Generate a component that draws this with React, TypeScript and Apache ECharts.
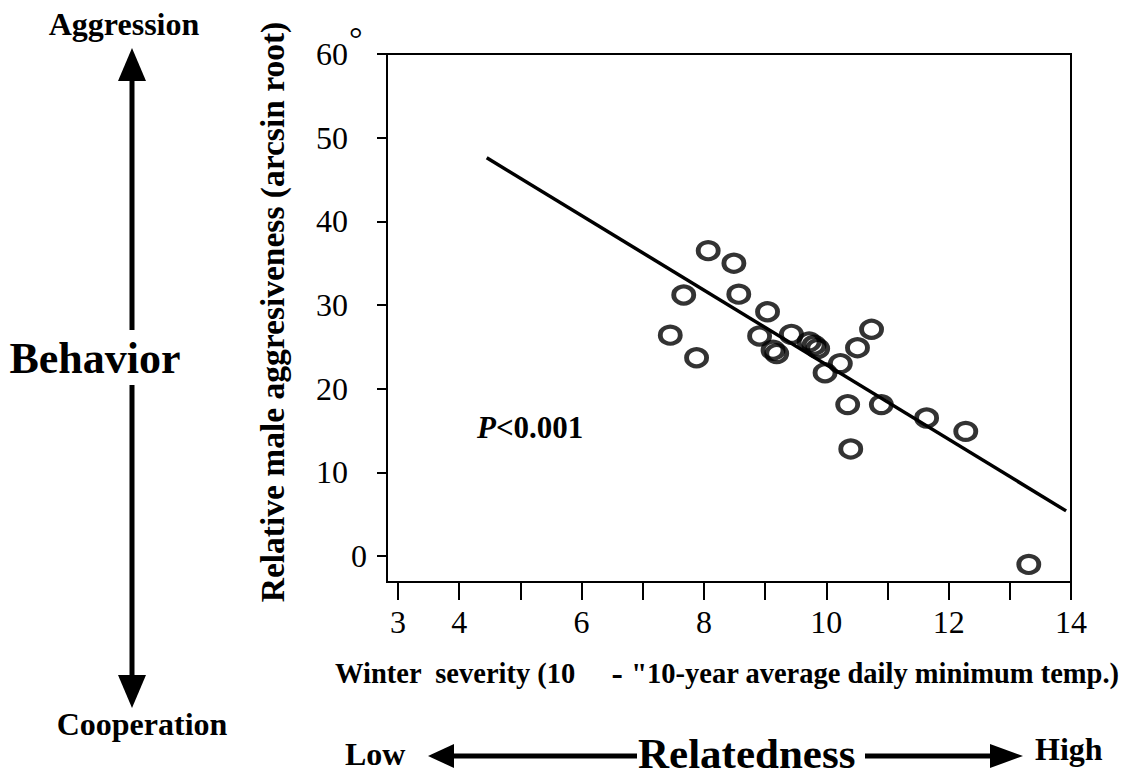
import React, { useEffect, useRef } from "react";
import * as echarts from "echarts";

// Winter severity (x) and relative male aggressiveness (y) per population
const winterSeverity = [8.07, 8.49, 7.67, 8.57, 9.04, 7.45, 8.91, 9.43, 9.13, 9.19, 9.72, 9.8, 9.86, 9.98, 10.23, 10.51, 10.74, 10.35, 10.9, 11.64, 12.28, 10.4, 7.88, 13.31];
const maleAggressiveness = [36.5, 35.0, 31.2, 31.3, 29.2, 26.4, 26.3, 26.5, 24.6, 24.2, 25.6, 25.2, 24.8, 21.9, 23.0, 24.9, 27.1, 18.1, 18.1, 16.5, 14.9, 12.8, 23.7, -1.0];

// Regression line end points
const fitX = [4.45, 13.92];
const fitY = [47.6, 5.4];

// Axis ticks and labels
const xTickValues = [3, 4, 5, 6, 7, 8, 9, 10, 11, 12, 13, 14];
const xLabelValues = [3, 4, 6, 8, 10, 12, 14];
const yTickValues = [0, 10, 20, 30, 40, 50, 60];

const xTitleA = "Winter  severity (10";
const xTitleB = '"10-year average daily minimum temp.)';
const yTitle = "Relative male aggresiveness (arcsin root)";

const SERIF = "'Liberation Serif', 'Times New Roman', Times, serif";

export default function App() {
  const ref = useRef<HTMLDivElement>(null);

  useEffect(() => {
    if (!ref.current) return;
    const chart = echarts.init(ref.current, undefined, { renderer: "svg" });

    const scatterData = winterSeverity.map((x, i) => [x, maleAggressiveness[i]]);
    const fitData = fitX.map((x, i) => [x, fitY[i]]);

    const txt = (
      text: string,
      x: number,
      y: number,
      size: number,
      align: string = "left",
      extra: any = {}
    ) => ({
      type: "text",
      x,
      y,
      style: {
        text,
        fontFamily: SERIF,
        fontSize: size,
        fontWeight: "bold",
        fill: "#000",
        align,
        verticalAlign: "middle",
        ...extra,
      },
    });

    const lineEl = (x1: number, y1: number, x2: number, y2: number) => ({
      type: "line",
      shape: { x1, y1, x2, y2 },
      style: { stroke: "#000", lineWidth: 5 },
    });

    const tri = (pts: number[][]) => ({
      type: "polygon",
      shape: { points: pts },
      style: { fill: "#000" },
    });

    chart.setOption({
      animation: false,
      backgroundColor: "#fff",
      grid: {
        left: 387,
        right: 62,
        top: 54,
        bottom: 194,
        show: true,
        borderColor: "#000",
        borderWidth: 2,
        outerBoundsMode: "none",
      },
      xAxis: {
        type: "value",
        min: 2.82,
        max: 14,
        name: `{a|${xTitleA}}{d|-}{a|${xTitleB}}`,
        nameLocation: "middle",
        nameGap: 74,
        nameTextStyle: {
          rich: {
            a: { fontFamily: SERIF, fontSize: 28.5, fontWeight: "bold", color: "#000" },
            d: {
              fontFamily: SERIF,
              fontSize: 34,
              fontWeight: "bold",
              color: "#000",
              padding: [0, 8, 0, 36],
            },
          },
          padding: [0, 4, 0, 0],
        },
        splitLine: { show: false },
        axisLine: { show: true, onZero: false, lineStyle: { color: "#000", width: 2 } },
        axisTick: {
          show: true,
          inside: false,
          length: 18,
          customValues: xTickValues,
          lineStyle: { color: "#000", width: 2 },
        },
        axisLabel: {
          customValues: xLabelValues,
          margin: 24,
          fontFamily: SERIF,
          fontSize: 32,
          color: "#000",
        },
      },
      yAxis: {
        type: "value",
        min: -3.1,
        max: 60,
        name: yTitle,
        nameLocation: "middle",
        nameGap: 98,
        nameRotate: 90,
        nameTextStyle: {
          fontFamily: SERIF,
          fontSize: 33.5,
          fontWeight: "bold",
          color: "#000",
          padding: [0, 0, 0, 12],
        },
        splitLine: { show: false },
        axisLine: { show: true, onZero: false, lineStyle: { color: "#000", width: 2 } },
        axisTick: {
          show: true,
          inside: false,
          length: 10,
          customValues: yTickValues,
          lineStyle: { color: "#000", width: 2 },
        },
        axisLabel: {
          customValues: yTickValues,
          margin: 20,
          formatter: (v: number) => (v === 0 ? `{z|${v}}` : `{n|${v}}`),
          rich: {
            z: { fontFamily: SERIF, fontSize: 32, color: "#000" },
            n: { fontFamily: SERIF, fontSize: 32, color: "#000", padding: [0, 19, 0, 0] },
          },
        },
      },
      series: [
        {
          type: "line",
          data: fitData,
          symbol: "none",
          lineStyle: { color: "#000", width: 3.5 },
          z: 2,
        },
        {
          type: "scatter",
          data: scatterData,
          symbol: "circle",
          symbolSize: [20, 17],
          itemStyle: { color: "rgba(0,0,0,0)", borderColor: "#000", borderWidth: 4.5 },
          z: 3,
        },
      ],
      graphic: [
        // degree sign next to 60
        txt("°", 349, 38, 34, "left", { fontWeight: "normal" }),
        // P value
        {
          type: "text",
          x: 477,
          y: 427,
          style: {
            text: "{i|P}{b|<0.001}",
            verticalAlign: "middle",
            rich: {
              i: { fontFamily: SERIF, fontSize: 31, fontWeight: "bold", fontStyle: "italic", fill: "#000" },
              b: { fontFamily: SERIF, fontSize: 31, fontWeight: "bold", fill: "#000" },
            },
          },
        },
        // Behavior vertical arrow
        txt("Aggression", 124, 24, 32, "center"),
        txt("Cooperation", 142, 724, 32, "center"),
        txt("Behavior", 95, 358, 44, "center"),
        lineEl(132, 78, 132, 330),
        lineEl(132, 385, 132, 678),
        tri([[132, 48], [118, 81], [146, 81]]),
        tri([[132, 708], [118, 675], [146, 675]]),
        // Relatedness horizontal arrow
        txt("Low", 345, 754, 32, "left"),
        txt("Relatedness", 638, 753, 43, "left"),
        txt("High", 1035, 749, 32, "left"),
        lineEl(452, 756, 637, 756),
        lineEl(865, 756, 992, 756),
        tri([[428, 756], [454, 744], [454, 768]]),
        tri([[1023, 756], [990, 744], [990, 768]]),
      ],
    });

    return () => chart.dispose();
  }, []);

  return (
    <div
      ref={ref}
      style={{ position: "absolute", left: 0, top: 0, width: 1133, height: 776, background: "#fff" }}
    />
  );
}
